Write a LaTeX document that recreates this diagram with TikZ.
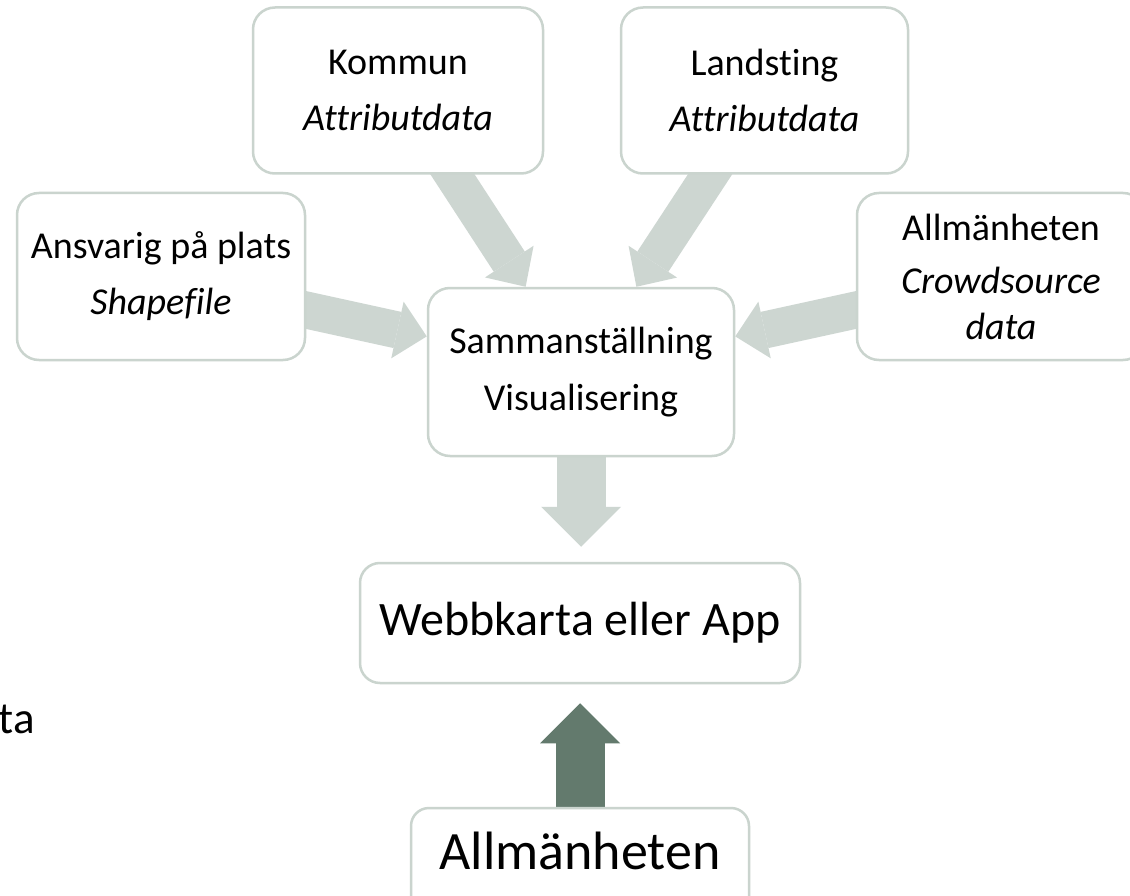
\documentclass[tikz,border=0pt]{standalone}
\usepackage{fontspec}
\setmainfont[Ligatures=NoCommon]{Carlito}
\usetikzlibrary{arrows.meta}
\definecolor{boxline}{HTML}{CAD4CE}
\definecolor{arrowc}{HTML}{CDD6D1}
\definecolor{darkarrow}{HTML}{637A6D}
\pgfdeclarelayer{bg}
\pgfsetlayers{bg,main}
\begin{document}
\begin{tikzpicture}[x=1pt,y=-1pt,
  box/.style={draw=boxline, line width=2.5pt, rounded corners=22pt, fill=white, align=center, inner sep=0pt},
  srcfont/.style={font=\fontsize{38}{56}\selectfont},
  flow/.style={draw=arrowc, line width=37pt, shorten <=-25pt, -{Triangle[length=30pt,width=58pt,line width=0pt]}},
  vflow/.style={draw=arrowc, line width=49pt, shorten <=-20pt, -{Triangle[length=40pt,width=80pt,line width=0pt]}},
  upflow/.style={vflow, draw=darkarrow}
]
\clip (0,0) rectangle (1130,896);
\begin{pgfonlayer}{bg}
\fill[white] (0,0) rectangle (1130,896);
\end{pgfonlayer}

% boxes
\node[box, srcfont, minimum width=288pt, minimum height=167pt] (ansv) at (161,276.5) {Ansvarig på plats\\\textit{Shapefile}};
\node[box, srcfont, minimum width=290pt, minimum height=166pt] (kom) at (398,90.5) {Kommun\\\textit{Attributdata}};
\node[box, srcfont, minimum width=287pt, minimum height=166pt] (lan) at (764.5,90.5) {Landsting\\\textit{Attributdata}};
\node[box, srcfont, minimum width=288pt, minimum height=167pt] (pub) at (1001,276.5) {Allmänheten\\[-3pt]\textit{Crowdsource}\\[-10pt]\textit{data}};
\node[box, srcfont, minimum width=306pt, minimum height=168pt] (cen) at (581,372) {Sammanställning\\[1pt]Visualisering};
\node[box, rounded corners=20pt, font=\fontsize{48}{56}\selectfont, minimum width=440pt, minimum height=120pt] (web) at (580,623) {Webbkarta eller App};
\node[box, rounded corners=18pt, font=\fontsize{54}{60}\selectfont, minimum width=338pt, minimum height=120pt, text height=37pt, text depth=35pt] (usr) at (580,868) {Allmänheten};
\node[font=\fontsize{45}{54}\selectfont, anchor=base east, inner sep=0pt] (frag) at (35,733) {ta};

% connectors (under the boxes)
\begin{pgfonlayer}{bg}
\draw[flow] (ansv.-13) -- (cen.167);
\draw[flow] (kom.-57) -- (cen.123);
\draw[flow] (lan.-123) -- (cen.57);
\draw[flow] (pub.-167) -- (cen.13);
\draw[vflow, shorten >=15pt] (cen.south) -- (cen.south |- web.north);
\draw[upflow, shorten >=19pt] (usr.north) -- (web.south);
\end{pgfonlayer}
\end{tikzpicture}
\end{document}
